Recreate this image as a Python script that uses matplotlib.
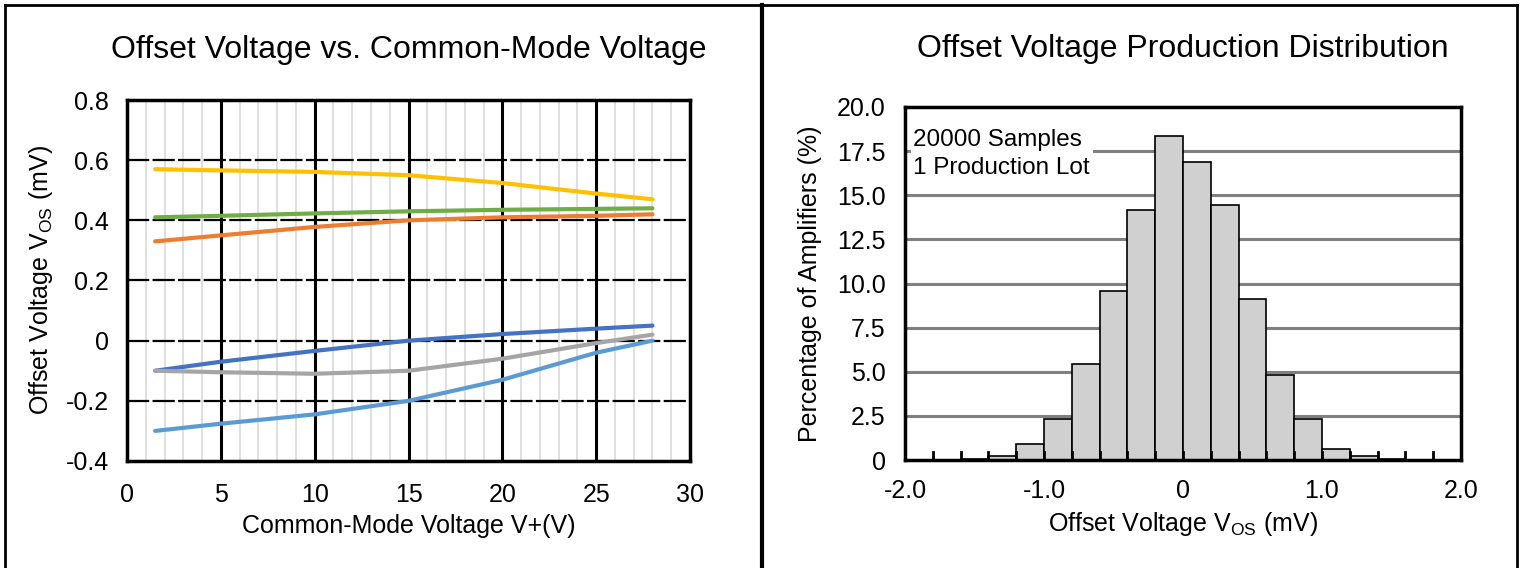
#!/usr/bin/env python3

"""
offset voltage -- Vos vs common-mode voltage and production distribution
"""

import matplotlib
matplotlib.use('Agg')
import matplotlib.pyplot as plt
from matplotlib.lines import Line2D
import numpy as np

plt.rcParams['font.family'] = ['Liberation Sans', 'DejaVu Sans']

# left panel: offset voltage vs common-mode voltage
vcm = [1.5, 5, 10, 15, 20, 25, 28]
vos_curves = {
    'yellow': [0.570, 0.566, 0.561, 0.550, 0.524, 0.489, 0.470],
    'green': [0.410, 0.415, 0.423, 0.430, 0.435, 0.438, 0.440],
    'orange': [0.330, 0.350, 0.378, 0.400, 0.410, 0.415, 0.420],
    'darkblue': [-0.100, -0.070, -0.034, 0.000, 0.022, 0.040, 0.050],
    'gray': [-0.100, -0.105, -0.110, -0.100, -0.060, -0.008, 0.020],
    'lightblue': [-0.300, -0.276, -0.245, -0.200, -0.130, -0.040, 0.000],
}
curve_colors = {
    'yellow': '#FFC000',
    'green': '#70AD47',
    'orange': '#ED7D31',
    'darkblue': '#4472C4',
    'gray': '#A5A5A5',
    'lightblue': '#5B9BD5',
}

# right panel: histogram, bin edges in mV and percentage per bin
bin_edges = np.round(np.arange(-1.6, 1.61, 0.2), 2)
percent = [0.07, 0.25, 0.90, 2.30, 5.45, 9.60, 14.15, 18.35,
           16.90, 14.45, 9.15, 4.82, 2.30, 0.64, 0.20, 0.06]


def execute():
    fig = plt.figure(figsize=(15.21, 5.68), dpi=100)

    # --- left chart
    ax = fig.add_axes([127/1521, 1 - 461/568, (690 - 127)/1521, (461 - 100)/568])
    ax.set_xlim(0, 30)
    ax.set_ylim(-0.4, 0.8)
    ax.set_xticks(range(0, 31, 5))
    ax.set_yticks([-0.4, -0.2, 0, 0.2, 0.4, 0.6, 0.8])
    ax.set_yticklabels(['-0.4', '-0.2', '0', '0.2', '0.4', '0.6', '0.8'])

    for x in range(1, 30):
        if x % 5:
            ax.axvline(x, color='#D9D9D9', lw=1.2, zorder=0)
    for x in range(5, 30, 5):
        ax.axvline(x, color='black', lw=2.2, zorder=1)
    for y in [-0.2, 0, 0.2, 0.4, 0.6]:
        ax.axhline(y, color='black', lw=1.6, ls=(0, (10, 1.5)), zorder=1)

    for name, values in vos_curves.items():
        ax.plot(vcm, values, color=curve_colors[name], lw=3,
                solid_capstyle='round', zorder=3)

    for spine in ax.spines.values():
        spine.set_linewidth(2.5)
    ax.tick_params(length=0, labelsize=18)
    ax.tick_params(axis='y', pad=13)
    ax.tick_params(axis='x', pad=16)
    ax.set_title('Offset Voltage vs. Common-Mode Voltage', fontsize=23, pad=30)
    ax.set_xlabel('Common-Mode Voltage V+(V)', fontsize=18, labelpad=5)
    ax.set_ylabel('Offset Voltage V$_{\\mathregular{OS}}$ (mV)', fontsize=18, labelpad=8)

    # --- right chart
    ax2 = fig.add_axes([905/1521, 1 - 460/568, (1461 - 905)/1521, (460 - 107)/568])
    ax2.set_xlim(-2.0, 2.0)
    ax2.set_ylim(0, 20)
    ax2.set_xticks([-2.0, -1.0, 0, 1.0, 2.0])
    ax2.set_xticklabels(['-2.0', '-1.0', '0', '1.0', '2.0'])
    ax2.set_yticks(np.arange(0, 20.1, 2.5))
    ax2.set_yticklabels(['0'] + ['{:.1f}'.format(v) for v in np.arange(2.5, 20.1, 2.5)])

    for y in np.arange(2.5, 20, 2.5):
        ax2.axhline(y, color='#808080', lw=2.2, zorder=0)

    ax2.bar(bin_edges[:-1], percent, width=0.2, align='edge',
            color='#D0D0D0', edgecolor='black', lw=1.2, zorder=2)

    # small inward ticks along the bottom
    for x in np.arange(-1.8, 1.81, 0.2):
        ax2.plot([x, x], [0, 0.45], color='black', lw=2, zorder=3)

    ax2.text(-1.94, 18.75, '20000 Samples\n1 Production Lot', fontsize=17.5,
             va='top', ha='left', linespacing=1.33, zorder=4,
             bbox=dict(facecolor='white', edgecolor='none', pad=2))

    for spine in ax2.spines.values():
        spine.set_linewidth(2.5)
        spine.set_zorder(5)
    ax2.tick_params(length=0, labelsize=18)
    ax2.tick_params(axis='y', pad=14)
    ax2.tick_params(axis='x', pad=14)
    ax2.set_title('Offset Voltage Production Distribution', fontsize=23, pad=36)
    ax2.set_xlabel('Offset Voltage V$_{\\mathregular{OS}}$ (mV)', fontsize=18, labelpad=5)
    ax2.set_ylabel('Percentage of Amplifiers (%)', fontsize=18, labelpad=11)

    # panel frame
    frame = dict(color='black', transform=fig.transFigure, clip_on=False)
    fig.add_artist(Line2D([5/1521, 5/1521], [0, 1 - 5/568], lw=2, **frame))
    fig.add_artist(Line2D([1517/1521, 1517/1521], [0, 1 - 5/568], lw=2, **frame))
    fig.add_artist(Line2D([5/1521, 1517/1521], [1 - 5/568, 1 - 5/568], lw=2, **frame))
    fig.add_artist(Line2D([762/1521, 762/1521], [0, 1 - 5/568], lw=3, **frame))

    fig.savefig('out.png', dpi=100)


if __name__ == '__main__':
    execute()
